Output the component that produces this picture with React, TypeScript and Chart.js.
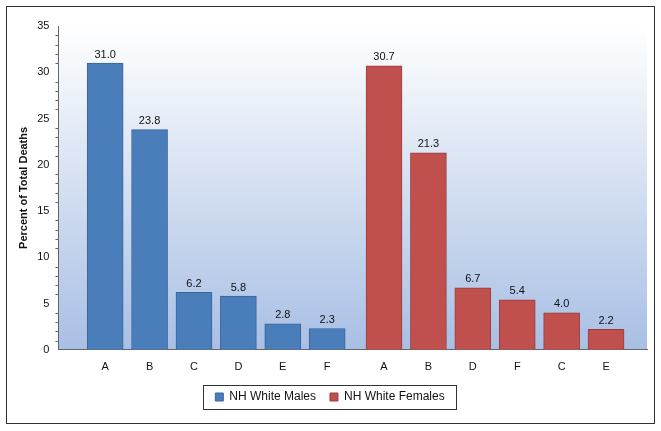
import React, { useEffect, useRef } from "react";
import { Chart, registerables } from "chart.js";
Chart.register(...registerables);

const maleLabels = ["A", "B", "C", "D", "E", "F"];
const maleValues = [31.0, 23.8, 6.2, 5.8, 2.8, 2.3];
const femaleLabels = ["A", "B", "D", "F", "C", "E"];
const femaleValues = [30.7, 21.3, 6.7, 5.4, 4.0, 2.2];
const malePos = [0, 1, 2, 3, 4, 5];
const femalePos = [6.28, 7.28, 8.28, 9.28, 10.28, 11.28];

export default function App() {
  const ref = useRef<HTMLCanvasElement>(null);
  useEffect(() => {
    const tickLabels: Record<string, string> = {};
    malePos.forEach((p, i) => (tickLabels[p.toFixed(2)] = maleLabels[i]));
    femalePos.forEach((p, i) => (tickLabels[p.toFixed(2)] = femaleLabels[i]));
    const bg = {
      id: "bg",
      beforeDraw(c: any) {
        const { ctx, chartArea: a } = c;
        const g = ctx.createLinearGradient(0, a.top, 0, a.bottom);
        g.addColorStop(0, "#ffffff");
        g.addColorStop(1, "#a8bfe4");
        ctx.save();
        ctx.fillStyle = g;
        ctx.fillRect(a.left, a.top, a.right - a.left, a.bottom - a.top);
        ctx.restore();
      },
      afterDraw(c: any) {
        const ctx = c.ctx;
        ctx.save();
        ctx.font = "11px Arial, 'Liberation Sans'";
        ctx.fillStyle = "#111";
        ctx.textAlign = "center";
        ctx.textBaseline = "bottom";
        c.data.datasets.forEach((ds: any, di: number) => {
          c.getDatasetMeta(di).data.forEach((el: any, i: number) => {
            ctx.fillText(ds.data[i].y.toFixed(1), el.x, el.y - 3);
          });
        });
        const y = c.scales.y;
        ctx.strokeStyle = "#666";
        ctx.lineWidth = 1;
        for (let v = 0; v <= 35; v += 1) {
          if (v % 5 === 0) continue;
          const py = Math.round(y.getPixelForValue(v)) + 0.5;
          ctx.beginPath();
          ctx.moveTo(c.chartArea.left - 3, py);
          ctx.lineTo(c.chartArea.left, py);
          ctx.stroke();
        }
        const l = c.legend;
        const hb = l.legendHitBoxes;
        if (hb && hb.length) {
          const x0 = hb[0].left - 12;
          const last = hb[hb.length - 1];
          const x1 = last.left + last.width + 12;
          const y0 = hb[0].top - 6;
          const y1 = hb[0].top + hb[0].height + 6;
          ctx.strokeStyle = "#333";
          ctx.strokeRect(Math.round(x0) + 0.5, Math.round(y0) + 0.5, Math.round(x1 - x0), Math.round(y1 - y0));
        }
        ctx.restore();
      },
    };
    const chart = new Chart(ref.current!, {
      type: "bar",
      data: {
        datasets: [
          {
            label: "NH White Males",
            data: malePos.map((x, i) => ({ x, y: maleValues[i] })),
            backgroundColor: "#4a7ebb",
            borderColor: "#3a649a",
            borderWidth: 1,
            barThickness: 36,
            grouped: false,
          },
          {
            label: "NH White Females",
            data: femalePos.map((x, i) => ({ x, y: femaleValues[i] })),
            backgroundColor: "#c0504d",
            borderColor: "#9a3e3b",
            borderWidth: 1,
            barThickness: 36,
            grouped: false,
          },
        ],
      },
      plugins: [bg],
      options: {
        animation: false,
        responsive: false,
        layout: { padding: { top: 15, right: 4, left: 2, bottom: 8 } },
        scales: {
          x: {
            type: "linear",
            min: -0.5,
            max: 11.65,
            grid: { display: false, drawTicks: true },
            border: { color: "#666" },
            afterBuildTicks(s: any) {
              s.ticks = [...malePos, ...femalePos].map((v) => ({ value: v }));
            },
            ticks: {
              autoSkip: false,
              maxRotation: 0,
              color: "#111",
              font: { size: 11, family: "Arial, 'Liberation Sans'" },
              callback: (v: any) => tickLabels[Number(v).toFixed(2)] ?? "",
            },
          },
          y: {
            min: 0,
            max: 35,
            ticks: { stepSize: 5, color: "#111", font: { size: 11, family: "Arial, 'Liberation Sans'" } },
            grid: { display: false, drawTicks: true, tickLength: 6 },
            border: { color: "#666" },
            title: {
              display: true,
              text: "Percent of Total Deaths",
              color: "#111",
              font: { size: 11, weight: "bold", family: "Arial, 'Liberation Sans'" },
            },
          },
        },
        plugins: {
          tooltip: { enabled: false },
          legend: {
            position: "bottom",
            labels: {
              boxWidth: 8,
              boxHeight: 8,
              color: "#111",
              padding: 14,
              font: { size: 12, family: "Arial, 'Liberation Sans'" },
            },
          },
        },
      },
    });
    return () => chart.destroy();
  }, []);
  return (
    <div style={{ position: "absolute", left: 6, top: 6, width: 647, height: 416, border: "1.5px solid #333", background: "#fff" }}>
      <canvas ref={ref} width={640} height={410} style={{ position: "absolute", left: 4, top: 4 }} />
    </div>
  );
}
